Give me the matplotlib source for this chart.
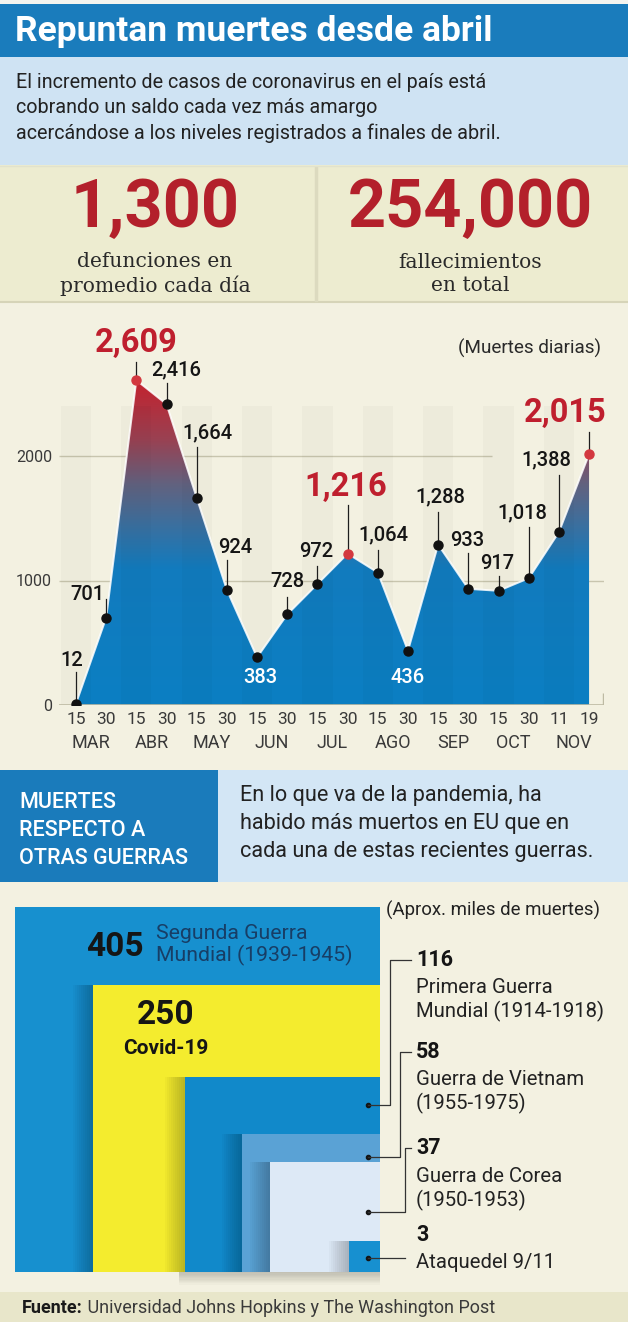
import numpy as np
import matplotlib
matplotlib.use("Agg")
import matplotlib.pyplot as plt
from matplotlib.patches import Rectangle, Polygon
from matplotlib.colors import LinearSegmentedColormap
from matplotlib.transforms import blended_transform_factory

# ---------------- data ----------------
title = "Repuntan muertes desde abril"
subtitle_lines = ["El incremento de casos de coronavirus en el país está",
                  "cobrando un saldo cada vez más amargo",
                  "acercándose a los niveles registrados a finales de abril."]
stat_values = ["1,300", "254,000"]
stat_captions = ["defunciones en\npromedio cada día", "fallecimientos\nen total"]

day_labels = ["15", "30", "15", "30", "15", "30", "15", "30", "15", "30",
              "15", "30", "15", "30", "15", "30", "11", "19"]
month_labels = ["MAR", "ABR", "MAY", "JUN", "JUL", "AGO", "SEP", "OCT", "NOV"]
daily_deaths = [12, 701, 2609, 2416, 1664, 924, 383, 728, 972, 1216,
                1064, 436, 1288, 933, 917, 1018, 1388, 2015]
highlight_idx = [2, 9, 17]
inside_idx = [6, 11]
y_ticks = [0, 1000, 2000]

war_values = [405, 250, 116, 58, 37, 3]
war_numbers = ["405", "250", "116", "58", "37", "3"]
war_names = ["Segunda Guerra\nMundial (1939-1945)", "Covid-19",
             "Primera Guerra\nMundial (1914-1918)", "Guerra de Vietnam\n(1955-1975)",
             "Guerra de Corea\n(1950-1953)", "Ataquedel 9/11"]

# ---------------- layout / style ----------------
SANS = ["Roboto", "DejaVu Sans"]
SERIF = ["DejaVu Serif"]
plt.rcParams["font.family"] = SANS

W, H = 628, 1322
fig = plt.figure(figsize=(W / 100, H / 100), dpi=100)
bg = fig.add_axes([0, 0, 1, 1])
bg.set_xlim(0, W)
bg.set_ylim(H, 0)
bg.axis("off")

def band(y0, y1, color, x0=0, x1=W, z=0):
    bg.add_patch(Rectangle((x0, y0), x1 - x0, y1 - y0, facecolor=color, edgecolor="none", zorder=z))

band(0, 4, "#f4f4ef")
band(4, 57, "#1a7cbc")
band(57, 165, "#cfe3f3")
band(165, 302, "#edecd0")
band(302, 770, "#f3f1e1")
band(770, 882, "#d3e6f5")
band(770, 882, "#1a7bbb", 0, 218, z=1)
band(882, 1292, "#f3f1e1")
band(1292, 1322, "#e8e6ca")
bg.plot([0, W], [302, 302], color="#d6d4b8", lw=1.5, zorder=2)
bg.plot([316, 316], [168, 300], color="#dcdabf", lw=2.5, zorder=2)
bg.plot([0, W], [166, 166], color="#e2e2cc", lw=1, zorder=2)

# title & subtitle
bg.text(15, 32, title, color="white", fontsize=25.5, fontweight="bold", va="center", ha="left")
for i, line in enumerate(subtitle_lines):
    bg.text(16, 82 + i * 25.5, line, color="#222222", fontsize=14.2, va="center", ha="left")

# stats
for cx, val, cap in zip([155, 470], stat_values, stat_captions):
    bg.text(cx, 209, val, color="#b3202b", fontsize=48, fontweight="bold", ha="center", va="center")
    bg.text(cx, 274, cap, color="#2a2a2a", fontsize=14.6, ha="center", va="center",
            family=SERIF, linespacing=1.3)

# ---------------- line/area chart ----------------
px_per_idx = 30.18
x_left_idx, x_right_idx = -0.55, 17.5
y_max = 3000
ax_left_px = 76 + x_left_idx * px_per_idx
ax_right_px = 76 + x_right_idx * px_per_idx
ax_h_px = y_max / 1000 * 124.5
ax = fig.add_axes([ax_left_px / W, (H - 705) / H, (ax_right_px - ax_left_px) / W, ax_h_px / H])
ax.set_facecolor("none")
for s in ax.spines.values():
    s.set_visible(False)

x = np.arange(len(daily_deaths))
y = np.array(daily_deaths, dtype=float)

# grid lines
ax.hlines(1000, x_left_idx, x_right_idx, color="#c8c5ae", lw=1, zorder=1)
ax.hlines(2000, x_left_idx, 13.8, color="#c8c5ae", lw=1, zorder=1)

# alternating stripes
for i in range(0, len(x), 2):
    ax.axvspan(i - 0.5, i + 0.5, ymin=0, ymax=2400 / y_max, color="black", alpha=0.022, lw=0, zorder=3)

# gradient area
cmap = LinearSegmentedColormap.from_list("g", [
    (0.0, "#0b7fc3"), (0.42, "#127bbe"), (0.55, "#3a70a0"),
    (0.68, "#62627f"), (0.82, "#9a4152"), (1.0, "#c4222e")])
verts = [(x[0], 0)] + list(zip(x, y)) + [(x[-1], 0)]
poly = Polygon(verts, closed=True, facecolor="none", edgecolor="none")
ax.add_patch(poly)
grad = np.linspace(0, 1, 256).reshape(-1, 1)
im = ax.imshow(grad, extent=[x[0], x[-1], 0, max(daily_deaths)], origin="lower",
               aspect="auto", cmap=cmap, zorder=2, interpolation="bilinear")
im.set_clip_path(poly)
ax.plot(x, y, color="white", lw=1.4, alpha=0.85, zorder=4, solid_joinstyle="round")

# baseline and bracket
ax.hlines(0, x_left_idx, x_right_idx, color="#bdbaa3", lw=1.2, zorder=5)
ax.vlines(x_right_idx - 0.03, 0, 100, color="#bdbaa3", lw=1, zorder=5)

# label layout (x position, y position, leader top) per point
label_x = [-0.13, 0.38, 1.99, 3.31, 4.37, 5.27, 6.1, 7.02, 7.95, 8.95,
           10.2, 11.0, 12.06, 12.95, 13.95, 14.8, 15.6, 16.2]
label_y = [361, 890, 2908, 2690, 2185, 1269, 217, 988, 1229, 1751,
           1365, 217, 1671, 1325, 1140, 1542, 1968, 2345]
leader_top = [265, 850, 2755, 2586, 2072, 1165, None, 867, 1116, 1606,
              1245, None, 1550, 1220, 1036, 1430, 1847, 2193]

for i in range(len(x)):
    if leader_top[i] is not None:
        ax.plot([x[i], x[i]], [y[i], leader_top[i]], color="#1e1e1e", lw=0.9, zorder=5)
    txt = f"{daily_deaths[i]:,}"
    if i in highlight_idx:
        ax.text(label_x[i], label_y[i], txt, color="#bf1f2e", fontsize=23.5, fontweight="bold",
                ha="center", va="center", zorder=7, clip_on=False)
    elif i in inside_idx:
        ax.text(label_x[i], label_y[i], txt, color="white", fontsize=14.5, fontweight="medium",
                ha="center", va="center", zorder=7)
    else:
        ax.text(label_x[i], label_y[i], txt, color="#151515", fontsize=14.5, fontweight="medium",
                ha="center", va="center", zorder=7)

normal = [i for i in range(len(x)) if i not in highlight_idx]
ax.plot(x[normal], y[normal], "o", color="#111111", ms=6.5, zorder=6)
ax.plot(x[highlight_idx], y[highlight_idx], "o", color="#d3383f", ms=6.5, zorder=6)

ax.set_xlim(x_left_idx, x_right_idx)
ax.set_ylim(0, y_max)
ax.set_xticks(x, day_labels)
ax.set_yticks(y_ticks, [str(v) for v in y_ticks])
ax.tick_params(axis="x", length=0, pad=5, labelsize=12.5, labelcolor="#3a3a3a")
ax.tick_params(axis="y", length=0, pad=5.3, labelsize=11.5, labelcolor="#3a3a3a")
trans = blended_transform_factory(ax.transData, ax.transAxes)
for k, m in enumerate(month_labels):
    ax.text(2 * k + 0.5, -0.102, m, transform=trans, ha="center", va="center",
            fontsize=13, color="#3a3a3a")
bg.text(601, 348, "(Muertes diarias)", ha="right", va="center", fontsize=13.6, color="#2a2a2a")

# ---------------- wars header ----------------
for i, line in enumerate(["MUERTES", "RESPECTO A", "OTRAS GUERRAS"]):
    bg.text(19, 802 + i * 28, line, color="white", fontsize=15.5, va="center", ha="left",
            fontweight="medium")
for i, line in enumerate(["En lo que va de la pandemia, ha",
                          "habido más muertos en EU que en",
                          "cada una de estas recientes guerras."]):
    bg.text(240, 795 + i * 28.5, line, color="#222222", fontsize=15.6, va="center", ha="left")

# ---------------- squares ----------------
sq_scale = 18.137  # px per unit of sqrt(thousands)
right_px, bottom_px = 380, 1272
sq = fig.add_axes([0, (H - 1292) / H, 1, (1292 - 882) / H])
sq.set_xlim(-right_px / sq_scale, (W - right_px) / sq_scale)
sq.set_ylim(-(1292 - bottom_px) / sq_scale, (bottom_px - 882) / sq_scale)
sq.axis("off")
sq.set_facecolor("none")

sq_colors = ["#1790cf", "#f4ec2e", "#1189ca", "#5aa2d5", "#dde9f6", "#1790d0"]
for k, (v, c) in enumerate(zip(war_values, sq_colors)):
    s = np.sqrt(v)
    for j in range(1, 11):
        if k == 0:
            r = Rectangle((-s * 0.55, -j * 0.07), s * 0.55, s * 0.5)
            r.set_alpha(0.018)
        else:
            r = Rectangle((-s - j * 0.11, 0), s + j * 0.11, s)
            r.set_alpha(0.022)
        r.set_facecolor("black")
        r.set_edgecolor("none")
        r.set_zorder(2 * k + 1)
        sq.add_patch(r)
    sq.add_patch(Rectangle((-s, 0), s, s, facecolor=c, edgecolor="none", zorder=2 * k + 2))

# overlay for annotations (pixel coordinates)
ov = fig.add_axes([0, 0, 1, 1])
ov.set_xlim(0, W)
ov.set_ylim(H, 0)
ov.axis("off")
ov.set_facecolor("none")

ov.text(115, 947, war_numbers[0], fontsize=24, fontweight="bold", color="#151515",
        ha="center", va="center")
ov.text(156, 945, war_names[0], fontsize=15.3, color="#173e66", ha="left", va="center",
        linespacing=1.1)
ov.text(166, 1015, war_numbers[1], fontsize=24, fontweight="bold", color="#151515",
        ha="center", va="center")
ov.text(166, 1049, war_names[1], fontsize=15, fontweight="bold", color="#151515",
        ha="center", va="center")
ov.text(386, 910, "(Aprox. miles de muertes)", fontsize=13.4, color="#222222",
        ha="left", va="center")

num_y = [960, 1052, 1148, 1235]
name_y = [1000, 1092, 1189, 1263]
dot_y = [1105, 1157, 1212, 1258]
elbow_x = [390, 400, 405, 405]
for k in range(4):
    ov.text(416, num_y[k], war_numbers[k + 2], fontsize=15.5, fontweight="bold",
            color="#151515", ha="left", va="center")
    ov.text(416, name_y[k], war_names[k + 2], fontsize=14.6, color="#222222", ha="left",
            va="center", linespacing=1.25)
    ov.plot([368], [dot_y[k]], "o", color="#151515", ms=3)
    if k < 3:
        ov.plot([368, elbow_x[k], elbow_x[k], 411], [dot_y[k], dot_y[k], num_y[k], num_y[k]],
                color="#333333", lw=0.9)
    else:
        ov.plot([368, 405], [dot_y[k], dot_y[k]], color="#333333", lw=0.9)

# footer
t1 = ov.text(22, 1308, "Fuente:", fontsize=13, fontweight="bold", color="#1a1a1a",
             ha="left", va="center")
ov.annotate(" Universidad Johns Hopkins y The Washington Post", xy=(1, 0.5), xycoords=t1,
            fontsize=13, color="#3a3a3a", ha="left", va="center")

fig.savefig("out.png", dpi=100)
